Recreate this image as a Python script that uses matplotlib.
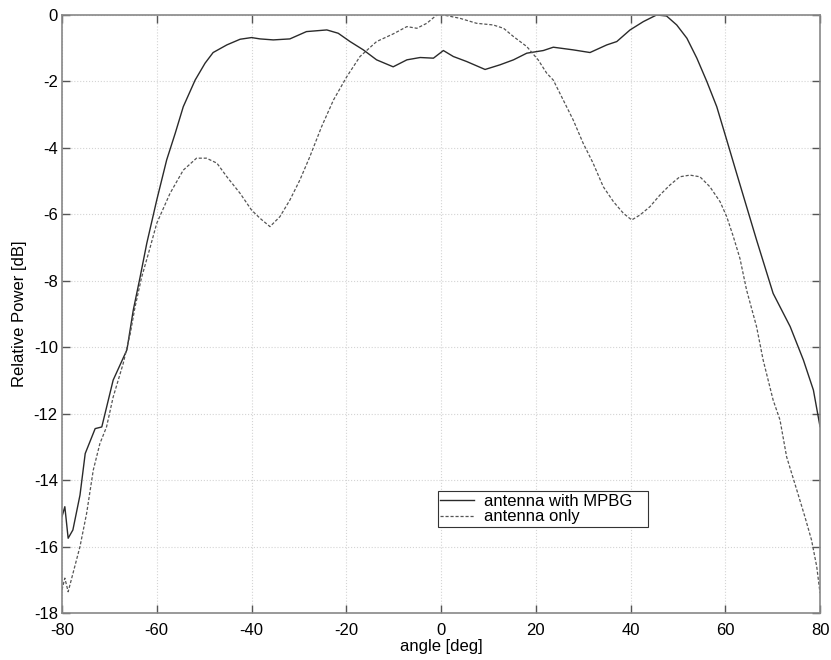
import numpy as np
import matplotlib
matplotlib.use('Agg')
import matplotlib.pyplot as plt

# measured pattern: antenna with MPBG (solid)
mpbg_angle = [-80, -79.4, -78.7, -77.7, -76.2, -75.1, -73.0, -71.6, -69.2, -66.3,
              -64.95, -63.5, -62.1, -60.0, -57.9, -56.1, -54.4, -51.9, -49.8, -48.1,
              -45.2, -42.4, -40.0, -38.2, -35.4, -31.9, -28.4, -24.1, -21.7, -19.2,
              -16.4, -13.6, -10.1, -7.2, -4.4, -1.6, 0.5, 2.6, 5.4, 9.3,
              12.45, 15.3, 18.1, 21.6, 23.7, 27.9, 31.45, 35.0, 37.1, 39.9,
              42.7, 45.5, 47.6, 49.75, 51.9, 54.0, 56.1, 58.2, 60.3, 62.4,
              64.5, 66.6, 70.1, 73.7, 76.5, 78.6, 80.0]
mpbg_db = [-15.1, -14.8, -15.75, -15.5, -14.45, -13.2, -12.45, -12.4, -10.99, -10.08,
           -8.88, -7.88, -6.87, -5.57, -4.36, -3.56, -2.76, -1.96, -1.45, -1.13,
           -0.90, -0.73, -0.68, -0.72, -0.75, -0.72, -0.50, -0.45, -0.55, -0.80,
           -1.05, -1.35, -1.56, -1.35, -1.28, -1.30, -1.07, -1.25, -1.40, -1.64,
           -1.50, -1.35, -1.15, -1.07, -0.97, -1.05, -1.13, -0.90, -0.80, -0.45,
           -0.20, 0.0, -0.03, -0.30, -0.70, -1.30, -2.00, -2.76, -3.76, -4.77,
           -5.77, -6.77, -8.38, -9.38, -10.39, -11.29, -12.39]

# measured pattern: antenna only (dashed)
only_angle = [-80, -79.4, -78.7, -76.2, -74.8, -73.4, -72.0, -70.6, -69.2, -67.1,
              -65.6, -64.6, -63.2, -61.6, -60.0, -57.2, -54.4, -51.6, -49.5, -47.3,
              -45.2, -42.4, -40.0, -38.2, -36.1, -34.0, -31.9, -29.8, -27.7, -25.2,
              -22.7, -19.9, -17.1, -13.6, -10.1, -7.2, -5.1, -3.0, -0.9, 0.5,
              4.0, 7.5, 11.0, 13.2, 15.3, 18.1, 20.5, 22.3, 23.7, 25.8,
              27.9, 30.0, 32.1, 34.25, 36.4, 38.5, 40.25, 42.0, 44.1, 46.2,
              48.3, 50.4, 52.55, 54.65, 56.75, 58.9, 60.3, 61.7, 63.1, 64.5,
              66.6, 68.0, 70.1, 71.55, 72.95, 75.1, 76.8, 78.2, 79.3, 80.0]
only_db = [-17.3, -16.95, -17.36, -16.0, -15.0, -13.7, -12.9, -12.4, -11.5, -10.5,
           -9.6, -8.8, -7.9, -7.1, -6.27, -5.37, -4.67, -4.31, -4.31, -4.46,
           -4.87, -5.37, -5.87, -6.12, -6.37, -6.07, -5.57, -4.97, -4.27, -3.36,
           -2.56, -1.86, -1.25, -0.80, -0.57, -0.35, -0.40, -0.25, 0.0, 0.0,
           -0.10, -0.25, -0.30, -0.40, -0.65, -0.95, -1.35, -1.75, -1.96, -2.56,
           -3.16, -3.86, -4.46, -5.17, -5.62, -5.97, -6.17, -6.02, -5.77, -5.42,
           -5.12, -4.87, -4.82, -4.87, -5.17, -5.62, -6.07, -6.67, -7.33, -8.28,
           -9.38, -10.39, -11.59, -12.19, -13.3, -14.3, -15.1, -15.8, -16.6, -17.4]

plt.rcParams['font.family'] = ['Liberation Sans', 'DejaVu Sans']
plt.rcParams['axes.unicode_minus'] = False

fig = plt.figure(figsize=(8.31, 6.60), dpi=100, facecolor='white')
ax = fig.add_axes([0.0746, 0.0712, 0.9122, 0.9061])

ax.plot(mpbg_angle, mpbg_db, color='#2a2a2a', linewidth=1.0, label='antenna with MPBG')
ax.plot(only_angle, only_db, color='#555555', linewidth=0.9, linestyle=(0, (2.5, 1.5)),
        label='antenna only')

ax.set_xlim(-80, 80)
ax.set_ylim(-18, 0)
ax.set_xticks(np.arange(-80, 81, 20))
ax.set_yticks(np.arange(-18, 1, 2))
ax.grid(True, color='#d4d4d4', linestyle=':', linewidth=0.8)
ax.set_axisbelow(True)

ax.tick_params(direction='in', length=6, width=1, color='#555555',
               top=True, right=True, labelsize=12)
ax.tick_params(axis='x', pad=7)
ax.tick_params(axis='y', pad=3)
for spine in ax.spines.values():
    spine.set_color('#888888')
    spine.set_linewidth(1.2)

ax.set_xlabel('angle [deg]', fontsize=12, labelpad=1)
ax.set_ylabel('Relative Power [dB]', fontsize=12, labelpad=5)

leg = ax.legend(loc='lower left', bbox_to_anchor=(0.496, 0.144, 0.277, 0.07),
                mode='expand', fontsize=12, frameon=True, fancybox=False,
                borderpad=0.15, labelspacing=0.05, handlelength=2.0, handletextpad=0.6,
                borderaxespad=0)
leg.get_frame().set_edgecolor('#333333')
leg.get_frame().set_linewidth(0.8)
leg.get_frame().set_alpha(1)

fig.savefig('out.png', dpi=100, facecolor='white')
